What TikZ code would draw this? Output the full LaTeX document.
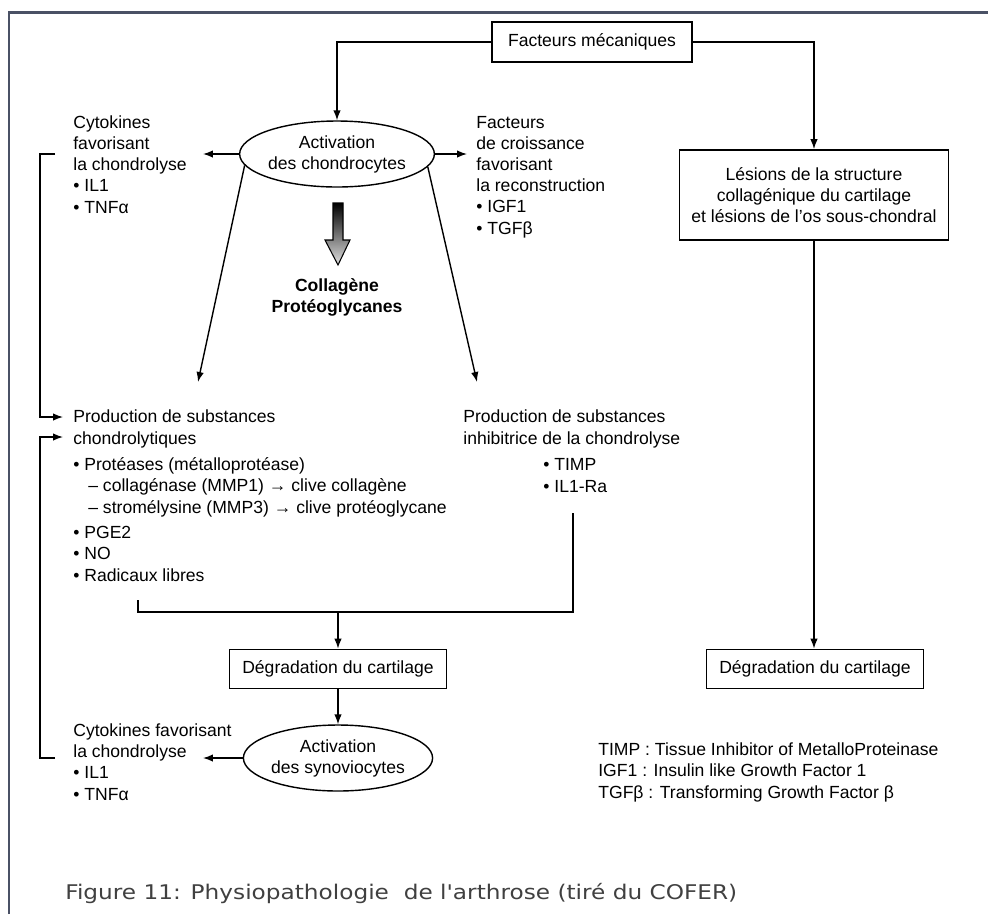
\documentclass[tikz,border=0pt]{standalone}
\usepackage{fontspec}
\setmainfont{Liberation Sans}
\newfontfamily\captionfont{DejaVu Sans}
\usepackage{tikz}
\usetikzlibrary{shapes.geometric,arrows.meta}
\definecolor{cadre}{HTML}{4A5165}
\tikzset{
    box/.style={draw, line width=1pt, minimum width=4.34cm, minimum height=0.78cm, inner sep=0pt, align=center},
    cell/.style={draw, ellipse, line width=0.8pt, minimum width=3.36cm, minimum height=1.32cm, inner sep=0pt, align=center}
}
\tikzset{
    txt/.style={anchor=base west, inner sep=0pt, align=left},
    link/.style={line width=0.8pt, -{Latex[length=2mm,width=1.5mm]}},
    wire/.style={line width=0.8pt}
}

\begin{document}
\begin{tikzpicture}[x=0.02cm, y=-0.02cm]
			\useasboundingbox (0,0) rectangle (988,914);
			\draw[cadre, line width=1.7pt] (9,914) -- (9,12) -- (988,12);
			% boites et ellipses
			\node[box, minimum width=4cm, minimum height=0.8cm] (meca) at (592,42) {Facteurs mécaniques};
			\node[cell] (chondro) at (337,154) {Activation\\des chondrocytes};
			\node[box, minimum width=5.38cm, minimum height=1.8cm] (lesion) at (814,195) {Lésions de la structure\\collagénique du cartilage\\et lésions de l'os sous-chondral};
			\node[box] (degradR) at (815,669) {Dégradation du cartilage};
			\node[box] (degradL) at (338,669) {Dégradation du cartilage};
			\node[cell] (synovio) at (338,758) {Activation\\des synoviocytes};
			% textes (base = derniere ligne)
			\node[txt] (cyto) at (73,213) {Cytokines\\favorisant\\la chondrolyse\\• IL1\\• TNFα};
			\node[txt] (croiss) at (476,234) {Facteurs\\de croissance\\favorisant\\la reconstruction\\• IGF1\\• TGFβ};
			\node[align=center, font=\bfseries] (matrice) at (337,297) {Collagène\\Protéoglycanes};
			\node[txt] (chondrolyt) at (73,444) {Production de substances\\chondrolytiques};
			\node[txt] (protease) at (73,513) {• Protéases (métalloprotéase)\\\hspace*{0.3cm}– collagénase (MMP1) → clive collagène\\\hspace*{0.3cm}– stromélysine (MMP3) → clive protéoglycane};
			\node[txt] (autres) at (73,581) {• PGE2\\• NO\\• Radicaux libres};
			\node[txt] (inhib) at (463,444) {Production de substances\\inhibitrice de la chondrolyse};
			\node[txt] (timp) at (543,492) {• TIMP\\• IL1-Ra};
			\node[txt] (cyto2) at (73,800) {Cytokines favorisant\\la chondrolyse\\• IL1\\• TNFα};
			\node[txt] (legende) at (598,798) {TIMP : Tissue Inhibitor of MetalloProteinase\\IGF1 : Insulin like Growth Factor 1\\TGFβ : Transforming Growth Factor β};
			\node[txt, text=black!75, font=\captionfont\fontsize{11.5}{13}\selectfont] (titre) at (65,899) {\resizebox{13.44cm}{\height}{Figure 11: Physiopathologie \ de l'arthrose (tiré du COFER)}};
			% points libres
			\coordinate (cytoTip) at (203,154);
			\coordinate (croissTip) at (467,154);
			\coordinate (gaucheTip) at (198,382);
			\coordinate (droiteTip) at (477,382);
			\coordinate (synTip) at (203,758);
			\coordinate (accolade) at (338,612);
			% fleches
			\draw[link] (meca.west) -| (chondro.north);
			\draw[link] (meca.east) -| (lesion.north);
			\draw[link] (lesion.south) -- (lesion.south |- degradR.north);
			\draw[link] (chondro.west) -- (cytoTip);
			\draw[link] (chondro.east) -- (croissTip);
			\draw[link] (chondro.187) -- (gaucheTip);
			\draw[link] (chondro.-8) -- (droiteTip);
			\shade[top color=black, bottom color=black!12, draw=black, line width=0.6pt] (333,203) -- (343,203) -- (343,240) -- (350,240) -- (338,265) -- (325,240) -- (333,240) -- cycle;
			\draw[link] (55,154) -- (40,154) -- (40,417) -- (63,417);
			\draw[link] (55,758) -- (40,758) -- (40,437) -- (63,437);
			\draw[wire] (138,600) -- (138,612) -- (573,612) -- (573,513);
			\draw[link] (accolade) -- (degradL.north);
			\draw[link] (degradL.south) -- (synovio.north);
			\draw[link] (synovio.west) -- (synTip);
	\end{tikzpicture}
\end{document}
